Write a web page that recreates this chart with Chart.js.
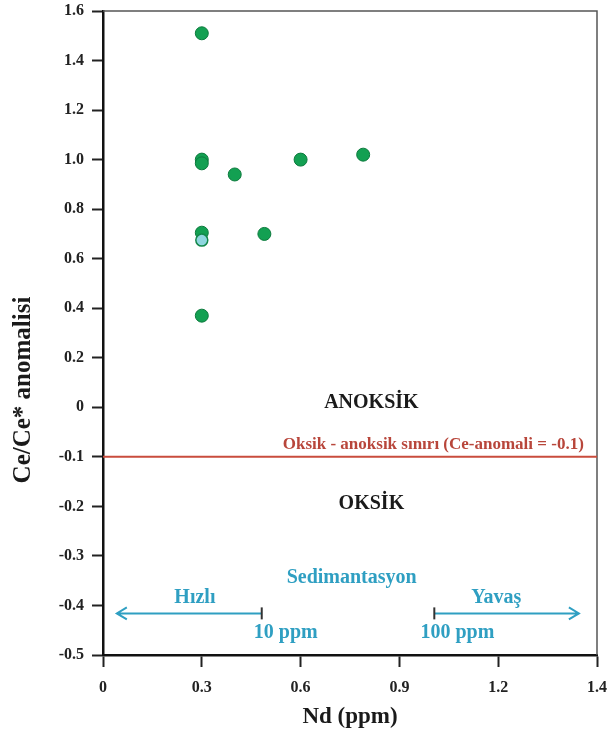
<!DOCTYPE html>
<html>
<head>
<meta charset="utf-8">
<script src="https://cdn.jsdelivr.net/npm/chart.js@4.4.1/dist/chart.umd.min.js"></script>
<style>
  html, body { margin: 0; padding: 0; background: #fff; }
  #wrap { width: 611px; height: 734px; }
</style>
</head>
<body>
<div id="wrap"><canvas id="chart" width="611" height="734"></canvas></div>
<script>
// Veriler (Nd ppm, Ce/Ce* anomalisi)
const ndValues = [0.30, 0.30, 0.30, 0.40, 0.60, 0.79, 0.30, 0.49, 0.30];
const ceAnomaly = [1.51, 1.00, 0.985, 0.94, 1.00, 1.02, 0.705, 0.70, 0.37];
const ndBlue = [0.30];
const ceBlue = [0.675];

const xTicks = [0, 0.3, 0.6, 0.9, 1.2, 1.5];
const xTickLabels = ["0", "0.3", "0.6", "0.9", "1.2", "1.4"];
const boundary = -0.1; // oksik - anoksik sınırı

const SERIF = "'Liberation Serif', 'DejaVu Serif', serif";
const TEAL = "#2f9fc2";

// negatif kısım iki kat ölçekli (eksen 0.2 / 0.1 adımları)
const ty = v => v < 0 ? v * 2 : v;
const yLabel = v => {
    const real = v < 0 ? v / 2 : v;
    if (Math.abs(real) < 1e-9) return "0";
    return real.toFixed(1);
};

const labels = [
    { text: "ANOKSİK", x: 0.815, y: 0.02, size: 20, color: "#1a1a1a", align: "center" },
    { text: "Oksik - anoksik sınırı (Ce-anomali = -0.1)", x: 1.46, y: -0.075, size: 17, color: "#b8463b", align: "right" },
    { text: "OKSİK", x: 0.815, y: -0.194, size: 20, color: "#1a1a1a", align: "center" },
    { text: "Sedimantasyon", x: 0.755, y: -0.345, size: 20, color: TEAL, align: "center" },
    { text: "Hızlı", x: 0.279, y: -0.384, size: 20, color: TEAL, align: "center" },
    { text: "Yavaş", x: 1.194, y: -0.384, size: 20, color: TEAL, align: "center" },
    { text: "10 ppm", x: 0.555, y: -0.456, size: 20, color: TEAL, align: "center" },
    { text: "100 ppm", x: 1.076, y: -0.456, size: 20, color: TEAL, align: "center" }
];

const arrows = [
    { from: 0.482, to: 0.042, y: -0.416 },  // hızlı
    { from: 1.006, to: 1.445, y: -0.416 }   // yavaş
];

const toPoints = (xs, ys) => xs.map((x, i) => ({ x, y: ty(ys[i]) }));

const extras = {
    id: "extras",
    beforeDatasetsDraw(chart) {
        const { ctx, chartArea: a } = chart;
        ctx.save();
        // üst ve sağ çerçeve
        ctx.strokeStyle = "#555";
        ctx.lineWidth = 1.5;
        ctx.beginPath();
        ctx.moveTo(a.left, a.top);
        ctx.lineTo(a.right, a.top);
        ctx.lineTo(a.right, a.bottom);
        ctx.stroke();
        ctx.restore();
    },
    afterDatasetsDraw(chart) {
        const { ctx, scales: { x, y }, chartArea: a } = chart;
        ctx.save();
        labels.forEach(l => {
            ctx.font = `bold ${l.size}px ${SERIF}`;
            ctx.fillStyle = l.color;
            ctx.textAlign = l.align;
            ctx.textBaseline = "middle";
            ctx.fillText(l.text, x.getPixelForValue(l.x), y.getPixelForValue(ty(l.y)));
        });

        arrows.forEach(ar => {
            const x0 = x.getPixelForValue(ar.from);
            const x1 = x.getPixelForValue(ar.to);
            const yy = y.getPixelForValue(ty(ar.y));
            const dir = Math.sign(x1 - x0);
            ctx.strokeStyle = TEAL;
            ctx.lineWidth = 2;
            ctx.beginPath();
            ctx.moveTo(x0, yy);
            ctx.lineTo(x1, yy);
            ctx.moveTo(x1 - dir * 10, yy - 6);
            ctx.lineTo(x1, yy);
            ctx.lineTo(x1 - dir * 10, yy + 6);
            ctx.stroke();
            ctx.strokeStyle = "#333";
            ctx.beginPath();
            ctx.moveTo(x0, yy - 6);
            ctx.lineTo(x0, yy + 6);
            ctx.stroke();
        });

        // eksen başlıkları
        ctx.fillStyle = "#1a1a1a";
        ctx.textAlign = "center";
        ctx.textBaseline = "middle";
        ctx.font = `bold 23px ${SERIF}`;
        ctx.fillText("Nd (ppm)", (a.left + a.right) / 2, 717);
        ctx.translate(24, 390);
        ctx.rotate(-Math.PI / 2);
        ctx.font = `bold 25px ${SERIF}`;
        ctx.fillText("Ce/Ce* anomalisi", 0, 0);
        ctx.restore();
    }
};

new Chart(document.getElementById("chart"), {
    type: "scatter",
    data: {
        datasets: [
            {
                type: "line",
                data: [{ x: 0, y: ty(boundary) }, { x: 1.5, y: ty(boundary) }],
                borderColor: "#c94c3d",
                borderWidth: 2,
                pointRadius: 0,
                order: 3
            },
            {
                data: toPoints(ndValues, ceAnomaly),
                backgroundColor: "#13a052",
                borderColor: "#0c7a3d",
                borderWidth: 1,
                pointRadius: 6.5,
                order: 2
            },
            {
                data: toPoints(ndBlue, ceBlue),
                backgroundColor: "#8fd6df",
                borderColor: "#13884a",
                borderWidth: 1.5,
                pointRadius: 6,
                order: 1
            }
        ]
    },
    options: {
        responsive: false,
        animation: false,
        layout: { padding: { top: 11, right: 14, left: 0, bottom: 0 } },
        plugins: { legend: { display: false }, tooltip: { enabled: false } },
        scales: {
            x: {
                type: "linear",
                min: 0,
                max: 1.5,
                afterFit: s => { s.height = 79; s.paddingLeft = 0; s.paddingRight = 0; },
                afterBuildTicks: s => { s.ticks = xTicks.map(v => ({ value: v })); },
                ticks: {
                    padding: 11,
                    color: "#222",
                    font: { family: SERIF, size: 16, weight: "bold" },
                    maxRotation: 0,
                    callback: (v) => xTickLabels[xTicks.findIndex(t => Math.abs(t - v) < 1e-6)]
                },
                grid: { drawOnChartArea: false, drawTicks: true, tickLength: 12, tickColor: "#222", tickWidth: 2 },
                border: { display: true, color: "#111", width: 2.5 }
            },
            y: {
                min: -1.0,
                max: 1.6,
                afterFit: s => { s.width = 103; s.paddingTop = 0; s.paddingBottom = 0; },
                ticks: {
                    stepSize: 0.2,
                    padding: 8,
                    color: "#222",
                    font: { family: SERIF, size: 16, weight: "bold" },
                    callback: v => yLabel(v)
                },
                grid: { drawOnChartArea: false, drawTicks: true, tickLength: 11, tickColor: "#222", tickWidth: 2 },
                border: { display: true, color: "#111", width: 2.5 }
            }
        }
    },
    plugins: [extras]
});
</script>
</body>
</html>
